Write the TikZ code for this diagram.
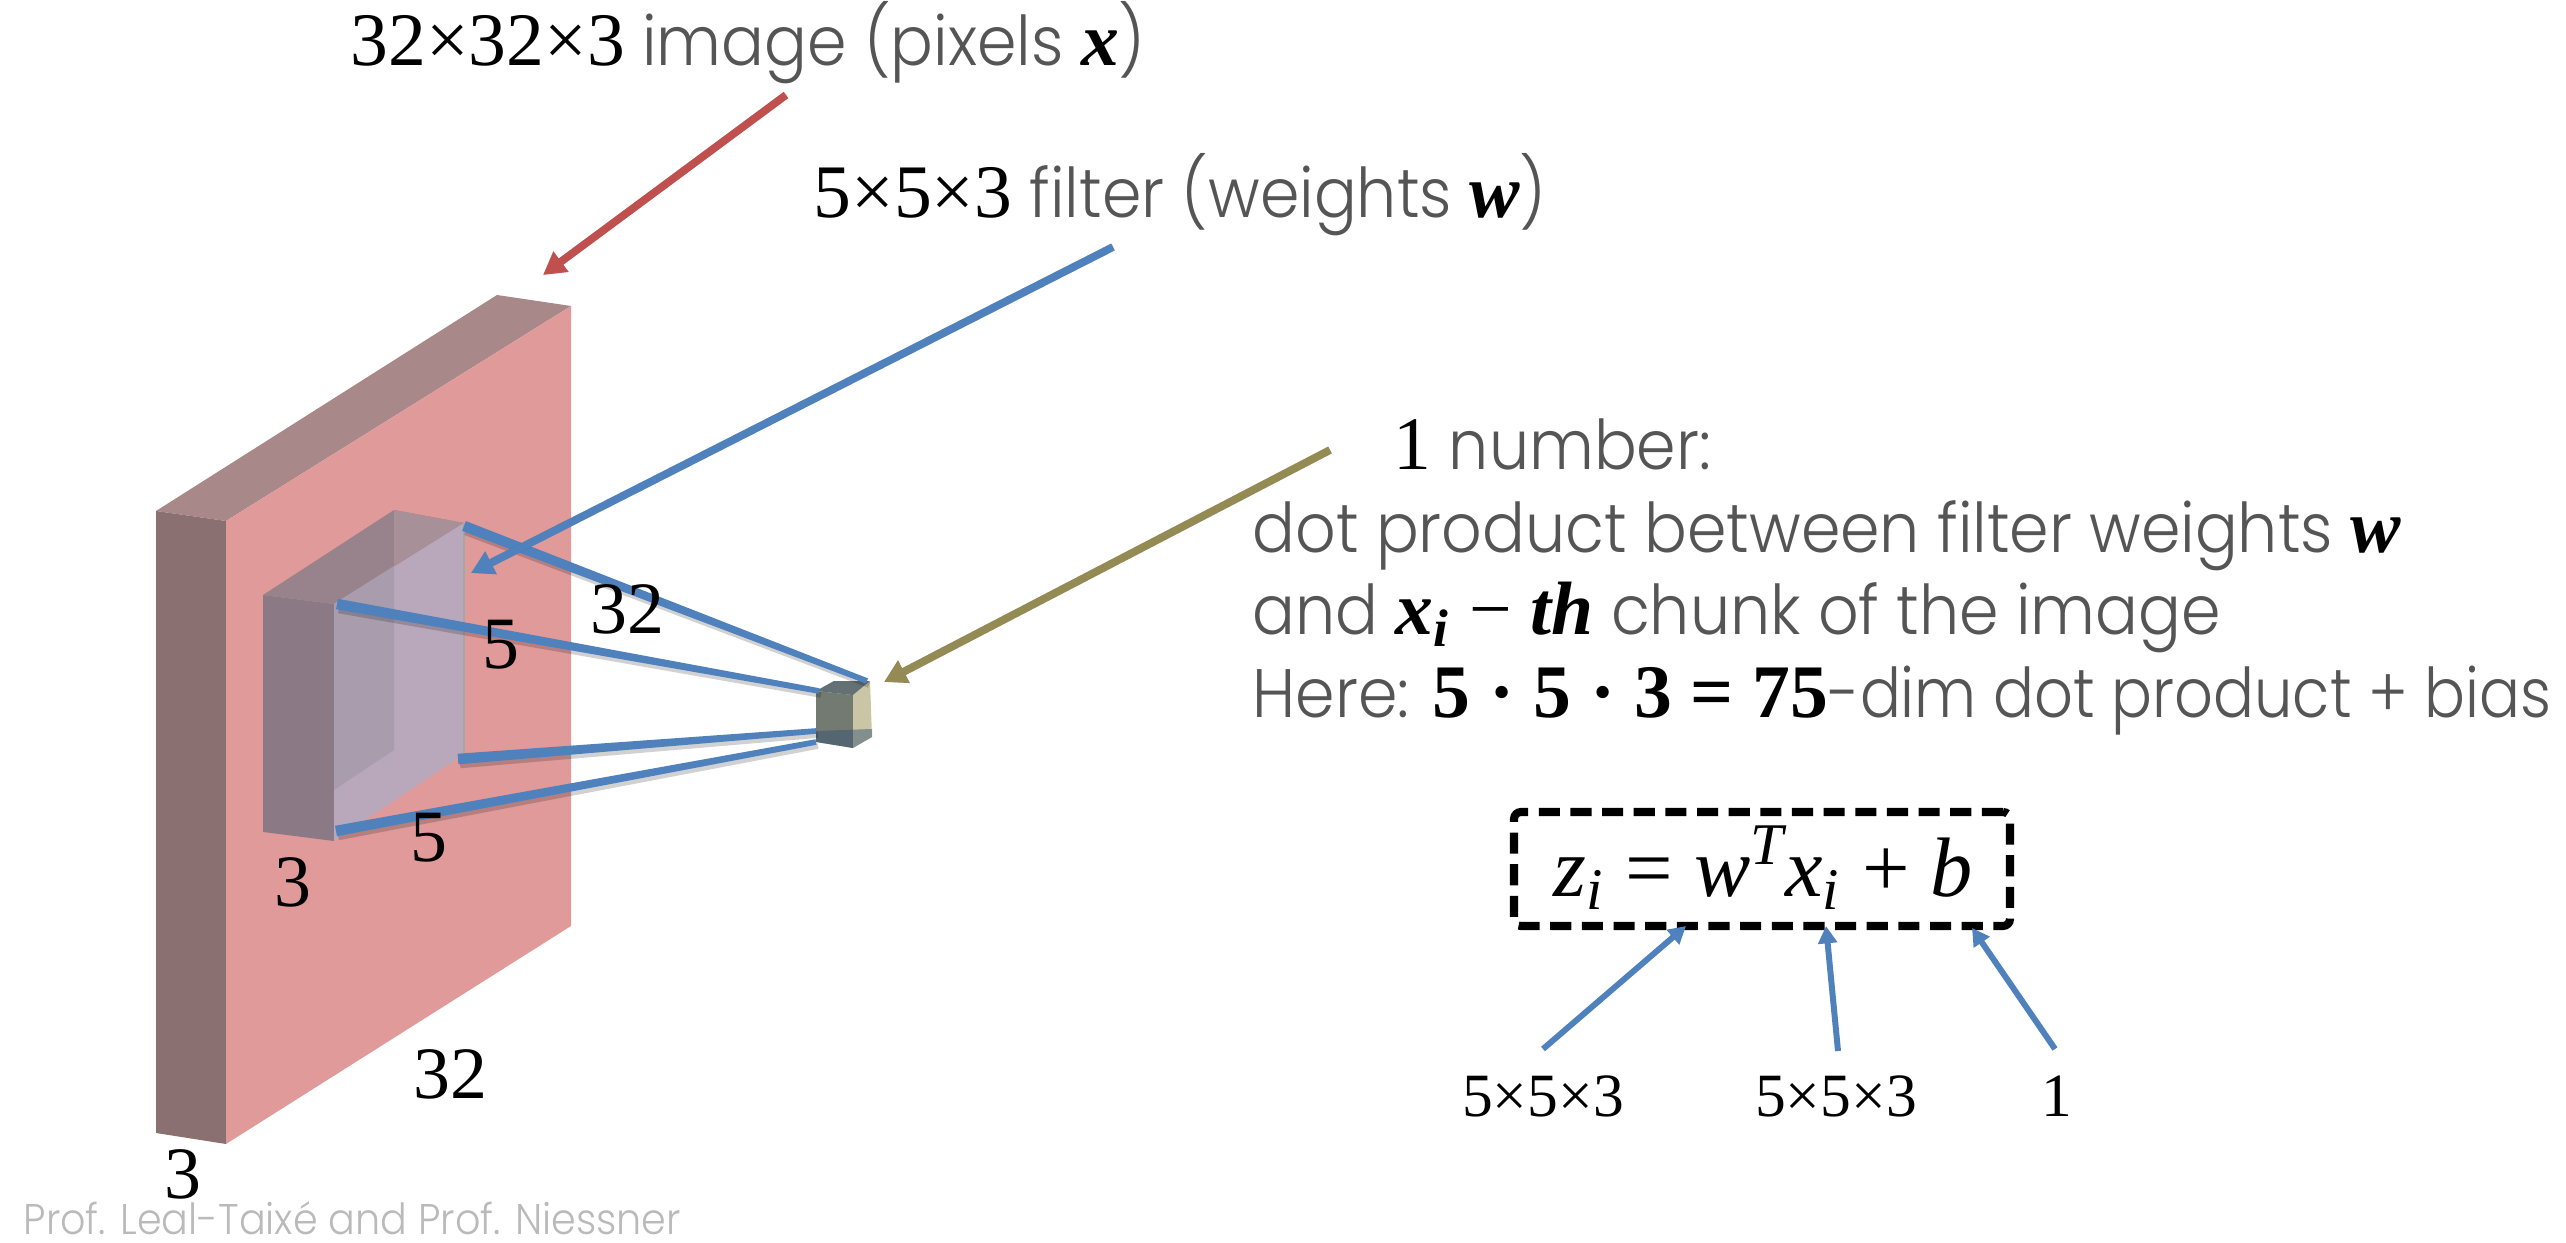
\documentclass[tikz,border=0pt]{standalone}
\usepackage{fontspec}
\setmainfont{Liberation Serif}
\newfontfamily\lightf[FakeStretch=0.925]{Poppins Light}
\newfontfamily\lightg[FakeStretch=0.885]{Poppins Light}
\usetikzlibrary{calc,arrows.meta}
\definecolor{slabfront}{HTML}{E09A9A}
\definecolor{slabside}{HTML}{8A7070}
\definecolor{slabtop}{HTML}{A88888}
\definecolor{filtleft}{HTML}{8B7A85}
\definecolor{filttop}{HTML}{98838C}
\definecolor{filttopr}{HTML}{A89098}
\definecolor{filtfront}{HTML}{B9A8BC}
\definecolor{filtinner}{HTML}{A99CAD}
\definecolor{bluec}{HTML}{4F81BD}
\definecolor{redc}{HTML}{C0504D}
\definecolor{olivec}{HTML}{948A54}
\definecolor{bodyc}{HTML}{555555}
\definecolor{cubeleft}{HTML}{737A72}
\definecolor{cubetop}{HTML}{8F8F78}
\definecolor{cuberight}{HTML}{C9C5A5}
\newcommand{\mathpart}[1]{{\fontsize{21.5}{24}\selectfont\rmfamily\color{black}#1}}
\newcommand{\mx}{{\bfseries\itshape x}}
\newcommand{\mw}{{\bfseries\itshape w}}
\newcommand{\taper}[2]{%
  \fill[black,opacity=.18] ($(#1)!1.5pt!90:(#2)+(2,4)$) -- ($(#1)!1.5pt!-90:(#2)+(2,4)$) -- ($(#2)!.8pt!90:(#1)+(2,4)$) -- ($(#2)!.8pt!-90:(#1)+(2,4)$) -- cycle;
  \fill[bluec] ($(#1)!1.5pt!90:(#2)$) -- ($(#1)!1.5pt!-90:(#2)$) -- ($(#2)!.8pt!90:(#1)$) -- ($(#2)!.8pt!-90:(#1)$) -- cycle;}
\tikzset{
  big/.style={anchor=base west,inner sep=0pt,text=bodyc,font=\fontsize{19.5}{22}\selectfont\lightf},
  dim/.style={inner sep=0pt,text=black,font=\fontsize{21}{23}\selectfont},
  small/.style={inner sep=0pt,anchor=base,text=black,font=\fontsize{17.5}{19}\selectfont},
  arrowline/.style={line width=#1,-{Triangle[width=3.1*#1,length=2.9*#1]}},
  arrowline/.default=2.2pt
}
\begin{document}
\begin{tikzpicture}[x=0.01cm,y=-0.01cm]
\useasboundingbox (0,0) rectangle (2566,1243);
% slab
\coordinate (sa) at (156,511); \coordinate (sb) at (226,521);
\coordinate (sc) at (497,295); \coordinate (sd) at (571,306);
\coordinate (se) at (571,926); \coordinate (sf) at (226,1144);
\coordinate (sg) at (156,1133);
\fill[slabtop] (sa) -- (sc) -- (sd) -- (sb) -- cycle;
\fill[slabside] (sa) -- (sb) -- (sf) -- (sg) -- cycle;
\fill[slabfront] (sb) -- (sd) -- (se) -- (sf) -- cycle;
% filter
\coordinate (fa) at (263,595); \coordinate (fb) at (334,604);
\coordinate (fc) at (394,510); \coordinate (fd) at (464,523);
\coordinate (fe) at (464,754); \coordinate (ff) at (334,841);
\coordinate (fg) at (263,832); \coordinate (fh) at (394,750);
\coordinate (fi) at (334,790); \coordinate (fj) at (394,566);
\fill[filttop] (fa) -- (fc) -- (fd) -- (fb) -- cycle;
\fill[filttopr] (fc) -- (fd) -- (fj) -- cycle;
\fill[filtleft] (fa) -- (fb) -- (ff) -- (fg) -- cycle;
\fill[filtfront] (fb) -- (fd) -- (fe) -- (ff) -- cycle;
\fill[filtinner] (fb) -- (fj) -- (fh) -- (fi) -- cycle;
\draw[black!35,line width=.5pt] (fd) -- (fe);
% cube
\coordinate (ca) at (816,691); \coordinate (cb) at (853,695);
\coordinate (cc) at (834,681); \coordinate (cd) at (870,681);
\coordinate (ce) at (872,737); \coordinate (cf) at (853,748);
\coordinate (cg) at (816,742);
\fill[cubetop] (ca) -- (cc) -- (cd) -- (cb) -- cycle;
\fill[cubeleft] (ca) -- (cb) -- (cf) -- (cg) -- cycle;
\fill[cuberight] (cb) -- (cd) -- (ce) -- (cf) -- cycle;
\fill[bluec!60!black,opacity=.45] (816,731) -- (872,729) -- (872,737) -- (853,748) -- (816,742) -- cycle;
\fill[bluec!60!black,opacity=.45] (816,691) -- (834,681) -- (870,681) -- (853,695) -- cycle;
% blue taper lines
\coordinate (t1) at (464,526); \coordinate (u1) at (867,681);
\coordinate (t2) at (337,604); \coordinate (u2) at (819,691);
\coordinate (t3) at (458,759); \coordinate (u3) at (816,731);
\coordinate (t4) at (336,831); \coordinate (u4) at (816,742);
\taper{t1}{u1}\taper{t2}{u2}\taper{t3}{u3}\taper{t4}{u4}
% dimension labels
\node[dim] (l32a) at (627,609) {32};
\node[dim] (l5a) at (501,645) {5};
\node[dim] (l5b) at (429,838) {5};
\node[dim] (l3a) at (293,882) {3};
\node[dim] (l32b) at (450,1074) {32};
\node[dim] (l3b) at (183,1174) {3};
% texts
\node[big] (tt1) at (350,66) {\mathpart{32×32×3} image (pixels \mathpart{\mx})};
\node[big] (tt2) at (813,218) {\mathpart{5×5×3} filter (weights \mathpart{\mw})};
\node[big] (tt3) at (1393,470) {\mathpart{1} number:};
\node[big] (tt4) at (1252,553) {dot product between filter weights \mathpart{\mw}};
\node[big] (tt5) at (1252,635) {and \mathpart{\mx\textsubscript{\bfseries\itshape i} \textminus\ {\bfseries\itshape th}} chunk of the image};
\node[big] (tt6) at (1252,717) {Here: \mathpart{\textbf{5 · 5 · 3 = 75}}{\lightg -dim dot product + bias}};
\node[inner sep=0pt,anchor=base west,font=\fontsize{24}{27}\selectfont\itshape] (eq) at (1553,896) {z\textsubscript{i} {\upshape =} w\textsuperscript{T}x\textsubscript{i} {\upshape +} b};
\node[inner sep=0pt,anchor=base west,text=black!27,font=\fontsize{12.2}{13}\selectfont\lightf] (foot) at (23,1234) {Prof. Leal-Taixé and Prof. Niessner};
% box
\node[draw=black,dash pattern=on 6pt off 3pt,line width=2.3pt,rounded corners=2pt,minimum width=496*0.01cm,minimum height=114*0.01cm,inner sep=0pt] (eqbox) at (1762,869) {};
\node[small] (s1) at (1543,1116) {5×5×3};
\node[small] (s2) at (1836,1116) {5×5×3};
\node[small] (s3) at (2057,1116) {1};
\coordinate (a1s) at (1543,1049); \coordinate (a1e) at (1686,926);
\coordinate (a2s) at (1838,1051); \coordinate (a2e) at (1826,926);
\coordinate (a3s) at (2055,1049); \coordinate (a3e) at (1972,928);
\draw[arrowline=1.7pt,bluec] (a1s) -- (a1e);
\draw[arrowline=1.7pt,bluec] (a2s) -- (a2e);
\draw[arrowline=1.7pt,bluec] (a3s) -- (a3e);
% callout arrows
\coordinate (r1) at (786,95); \coordinate (r2) at (543,275);
\coordinate (b1) at (1113,247); \coordinate (b2) at (471,573);
\coordinate (o1) at (1330,450); \coordinate (o2) at (884,682);
\draw[arrowline,black,opacity=.18,shift={(2,4)}] (r1) -- (r2);
\draw[arrowline,black,opacity=.18,shift={(2,4)}] (b1) -- (b2);
\draw[arrowline,black,opacity=.18,shift={(2,4)}] (o1) -- (o2);
\draw[arrowline,redc] (r1) -- (r2);
\draw[arrowline,bluec] (b1) -- (b2);
\draw[arrowline,olivec] (o1) -- (o2);
\end{tikzpicture}
\end{document}
